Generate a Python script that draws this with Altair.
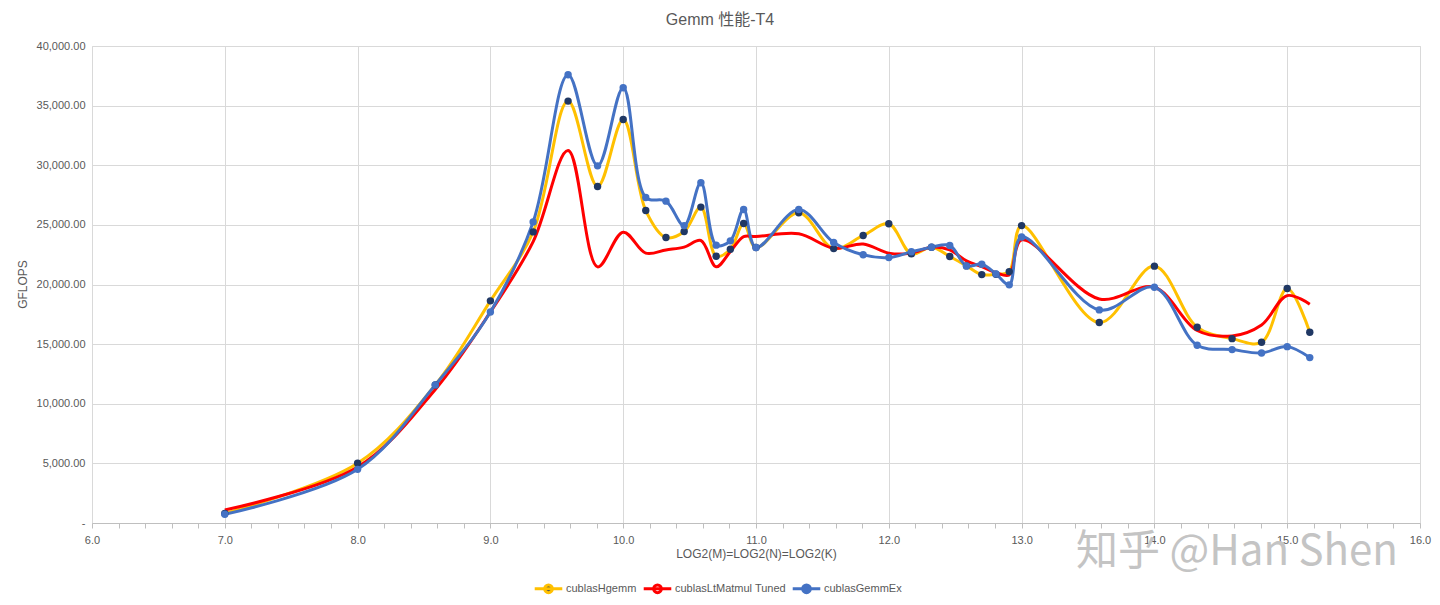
import altair as alt
import pandas as pd

# log2 of matrix size (M=N=K)
x_vals = [7.0, 8.0, 8.585, 9.0, 9.322, 9.585, 9.807, 10.0, 10.17, 10.322,
          10.459, 10.585, 10.700, 10.807, 10.907, 11.0, 11.322, 11.585, 11.807, 12.0,
          12.170, 12.322, 12.459, 12.585, 12.700, 12.807, 12.907, 13.0, 13.585, 14.0,
          14.322, 14.585, 14.807, 15.0, 15.170]

hgemm = [800, 5010, 11580, 18630, 24410, 35380, 28220, 33840, 26200, 23940,
         24440, 26490, 22370, 22960, 25110, 23100, 26010, 23010, 24110, 25090,
         22570, 23130, 22350, 21560, 20830, 20860, 21080, 24940, 16810, 21540,
         16420, 15460, 15160, 19660, 16000]

lt_tuned = [1090, 4700, 11200, 17700, 23600, 31240, 21480, 24390, 22630, 22900,
            23130, 23690, 21480, 22760, 24020, 24020, 24250, 23040, 23400, 22630,
            22630, 23130, 22900, 21980, 21500, 21000, 20800, 23740, 18790, 19770,
            16140, 15690, 16610, 19070, 18350]

gemmex = [730, 4500, 11580, 17700, 25250, 37590, 29950, 36500, 27290, 26990,
          24940, 28530, 23300, 23660, 26290, 23100, 26290, 23520, 22490, 22260,
          22740, 23130, 23270, 21560, 21700, 20890, 19970, 23990, 17870, 19770,
          14910, 14540, 14260, 14790, 13870]

series_names = ["cublasHgemm", "cublasLtMatmul Tuned", "cublasGemmEx"]
line_colors = ["#FFC000", "#FF0000", "#4472C4"]
dot_colors = ["#203864", "transparent", "#4472C4"]

x_ticks = [round(6 + 0.2 * i, 1) for i in range(51)]
y_ticks = [0, 5000, 10000, 15000, 20000, 25000, 30000, 35000, 40000]

rows = []
for name, vals in zip(series_names, [hgemm, lt_tuned, gemmex]):
    for i, (xv, yv) in enumerate(zip(x_vals, vals)):
        rows.append({"series": name, "log2": xv, "gflops": yv, "idx": i})
df = pd.DataFrame(rows)

FONT = "Liberation Sans, Noto Sans CJK SC, sans-serif"
GREY = "#595959"

sym_path = "M-1,0H1M-0.28,0a0.28,0.28 0 1,0 0.56,0a0.28,0.28 0 1,0 -0.56,0"
legend = alt.Legend(
    title=None, orient="none", legendX=441, legendY=527, direction="horizontal",
    symbolType=sym_path, symbolSize=760, symbolStrokeWidth=3,
    labelFontSize=11, labelColor=GREY, labelFont=FONT, labelOffset=2,
    columnPadding=0,
)

x_enc = alt.X(
    "log2:Q",
    scale=alt.Scale(domain=[6, 16], nice=False, zero=False),
    axis=alt.Axis(
        values=x_ticks, tickCount=80,
        labelExpr="datum.value % 1 === 0 ? format(datum.value, '.1f') : ''",
        labelOverlap=False, labelFlush=False,
        labelFontSize=11, labelColor=GREY, labelFont=FONT, labelPadding=6,
        tickSize=5, tickColor="#bfbfbf",
        domainColor="#bfbfbf",
        gridColor="#d9d9d9",
        gridOpacity={"condition": {"test": "datum.value % 1 === 0", "value": 1}, "value": 0},
        title="LOG2(M)=LOG2(N)=LOG2(K)", titleFontSize=12, titleColor=GREY,
        titleFont=FONT, titleFontWeight="normal", titleY=30, titleBaseline="middle",
    ),
)
y_enc = alt.Y(
    "gflops:Q",
    scale=alt.Scale(domain=[0, 40000], nice=False),
    axis=alt.Axis(
        values=y_ticks,
        labelExpr="datum.value === 0 ? '-' : format(datum.value, ',.2f')",
        labelFontSize=11, labelColor=GREY, labelFont=FONT, labelPadding=7,
        ticks=False, domain=False, gridColor="#d9d9d9",
        title="GFLOPS", titleFontSize=12, titleColor=GREY, titleFont=FONT,
        titleFontWeight="normal", titleX=-70, titleY=238, titleAngle=270,
        titleBaseline="middle", titleAlign="center",
    ),
)

lines = alt.Chart(df).mark_line(interpolate="catmull-rom", strokeWidth=3).encode(
    x=x_enc,
    y=y_enc,
    stroke=alt.Stroke("series:N", scale=alt.Scale(domain=series_names, range=line_colors),
                      legend=legend),
    order=alt.Order("idx:Q"),
)

points = alt.Chart(df).mark_point(filled=True, size=55, opacity=1).encode(
    x="log2:Q",
    y="gflops:Q",
    fill=alt.Fill("series:N", scale=alt.Scale(domain=series_names, range=dot_colors),
                  legend=legend),
)

wm = alt.Chart(pd.DataFrame({"t": ["知乎 @Han Shen"]})).mark_text(
    font="Noto Sans CJK SC", fontSize=42, color="#c4c4c4", align="center",
    baseline="alphabetic",
).encode(text="t:N", x=alt.value(1145), y=alt.value(519))

chart = alt.layer(lines, points, wm).properties(
    width=1328, height=477,
    autosize=alt.AutoSizeParams(type="none"),
    padding={"left": 84, "top": 38, "right": 12, "bottom": 80},
    title=alt.TitleParams("Gemm 性能-T4", fontSize=16, color=GREY, font=FONT,
                          fontWeight="normal", anchor="middle", frame="group",
                          offset=12, dx=-36),
).configure_view(strokeWidth=0).configure(background="white")

chart.save("out.html", embed_options={"renderer": "svg", "actions": False})
